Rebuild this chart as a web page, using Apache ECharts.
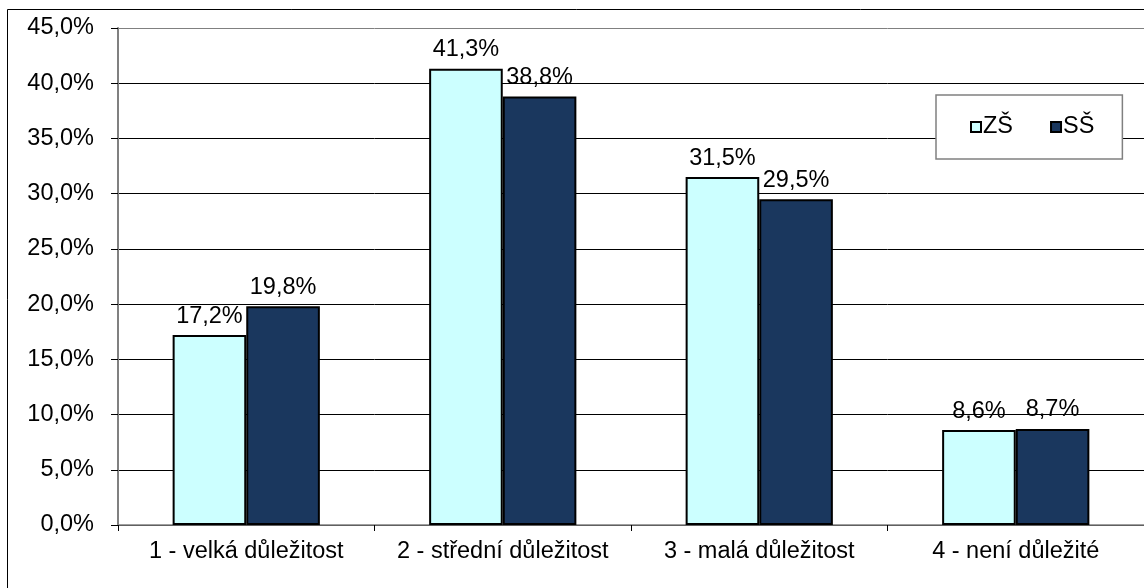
<!DOCTYPE html>
<html><head><meta charset="utf-8">
<script src="https://cdn.jsdelivr.net/npm/echarts@6/dist/echarts.min.js"></script>
<style>html,body{margin:0;padding:0;background:#fff}#c{width:1144px;height:588px}</style>
</head><body><div id="c"></div>
<script>
const categories = ['1 - velká důležitost', '2 - střední důležitost', '3 - malá důležitost', '4 - není důležité'];
const seriesNames = ['ZŠ', 'SŠ'];
const valuesZS = [17.2, 41.3, 31.5, 8.6];
const valuesSS = [19.8, 38.8, 29.5, 8.7];
const colors = ['#CCFFFF', '#1A375E'];

const fmt = v => v.toFixed(1).replace('.', ',') + '%';
const FONT = 'Liberation Sans, Arial, sans-serif';
const FS = 23.5;
const chart = echarts.init(document.getElementById('c'), null, {renderer: 'canvas'});
const splitColors = Array.from({length: 10}, (_, i) => i === 9 ? '#808080' : '#000000');

function mkSeries(name, data, color) {
  return {
    name, type: 'bar', data,
    barGap: '0%', barCategoryGap: '42.6%',
    itemStyle: {color, borderColor: '#000', borderWidth: 2},
    label: {show: true, position: 'top', distance: 7, color: '#000', fontFamily: FONT, fontSize: FS,
      formatter: p => fmt(p.value)},
    emphasis: {disabled: true}, animation: false
  };
}

chart.setOption({
  animation: false,
  backgroundColor: '#fff',
  textStyle: {fontFamily: FONT},
  grid: {left: 118, top: 28, right: -6, bottom: 63, containLabel: false},
  legend: {
    data: seriesNames, left: 936, top: 95, orient: 'horizontal',
    itemWidth: 10, itemHeight: 10, itemGap: 37, icon: 'rect',
    padding: [20, 28, 20, 34],
    backgroundColor: '#fff', borderColor: '#808080', borderWidth: 1.5,
    textStyle: {fontFamily: FONT, fontSize: FS, color: '#000', padding: [0, 0, 0, -3]}
  },
  xAxis: {
    type: 'category', data: categories,
    axisLine: {lineStyle: {color: '#808080', width: 1.5}},
    axisTick: {show: true, length: 6, lineStyle: {color: '#000'}},
    axisLabel: {color: '#000', fontSize: FS, fontFamily: FONT, margin: 15, interval: 0}
  },
  yAxis: {
    type: 'value', min: 0, max: 45, interval: 5,
    axisLine: {show: true, lineStyle: {color: '#808080', width: 2}},
    axisTick: {show: true, length: 7, lineStyle: {color: '#000'}},
    axisLabel: {color: '#000', fontSize: FS, fontFamily: FONT, margin: 24, formatter: v => fmt(v)},
    splitLine: {show: true, lineStyle: {color: splitColors, width: 1}}
  },
  series: [mkSeries(seriesNames[0], valuesZS, colors[0]), mkSeries(seriesNames[1], valuesSS, colors[1])],
  graphic: [{type: 'rect', shape: {x: 7.5, y: 9.5, width: 1200, height: 700},
    style: {fill: 'none', stroke: '#000', lineWidth: 1}, silent: true, z: 100}]
});
</script></body></html>
